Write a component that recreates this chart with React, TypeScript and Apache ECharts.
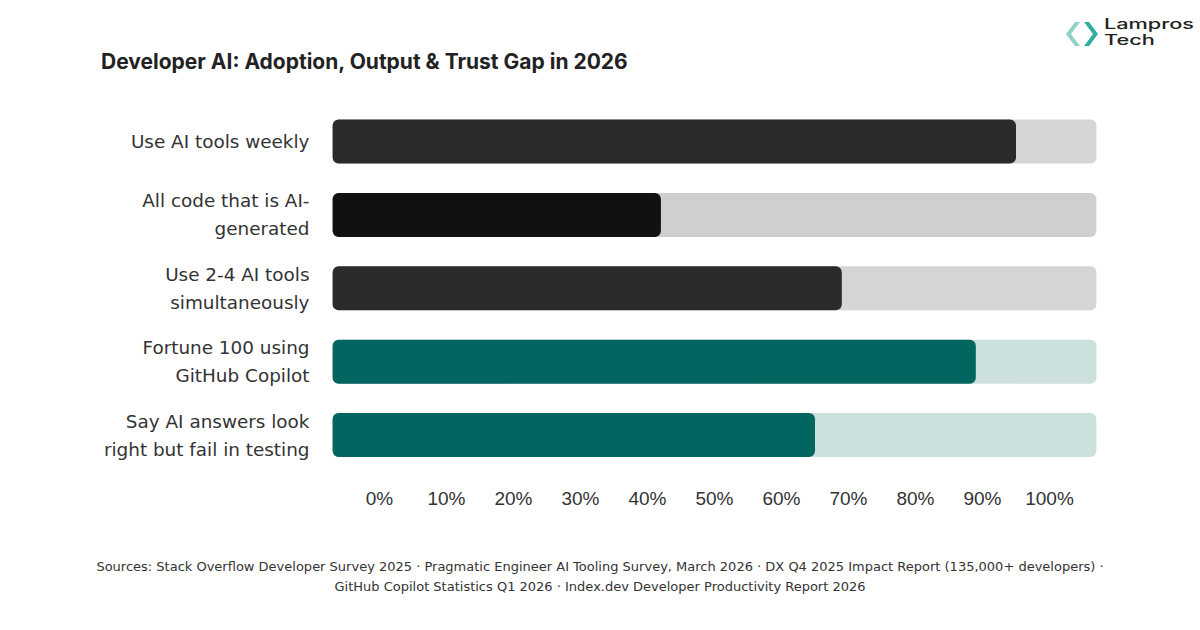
import React, { useEffect, useRef } from "react";
import * as echarts from "echarts";

const categories = [
  "Use AI tools weekly",
  "All code that is AI-\ngenerated",
  "Use 2-4 AI tools\nsimultaneously",
  "Fortune 100 using\nGitHub Copilot",
  "Say AI answers look\nright but fail in testing",
];
const values = [95, 42, 69, 89, 65];
const tickValues = [0, 10, 20, 30, 40, 50, 60, 70, 80, 90, 100];
const barColors = ["#2b2b2b", "#111111", "#2b2b2b", "#02655f", "#02655f"];
const trackColors = ["#d5d5d5", "#cfcfcf", "#d5d5d5", "#cce0de", "#cce0de"];
const TRACK_MIN = -7;
const TRACK_MAX = 107;
const sources = [
  "Sources: Stack Overflow Developer Survey 2025 · Pragmatic Engineer AI Tooling Survey, March 2026 · DX Q4 2025 Impact Report (135,000+ developers) ·",
  "GitHub Copilot Statistics Q1 2026 · Index.dev Developer Productivity Report 2026",
];

export default function App() {
  const ref = useRef<HTMLDivElement>(null);
  useEffect(() => {
    if (!ref.current) return;
    const chart = echarts.init(ref.current, null, { renderer: "svg" });

    const makeRender = (kind: "track" | "bar") => (params: any, api: any) => {
      const idx = api.value(1);
      const v = kind === "track" ? TRACK_MAX : api.value(0);
      const start = api.coord([TRACK_MIN, idx]);
      const end = api.coord([v, idx]);
      const band = api.size([0, 1])[1];
      const h = band * 0.6;
      return {
        type: "rect",
        shape: { x: start[0], y: start[1] - h / 2, width: end[0] - start[0], height: h, r: 6 },
        style: { fill: kind === "track" ? trackColors[idx] : barColors[idx] },
      };
    };

    chart.setOption({
      animation: false,
      backgroundColor: "#ffffff",
      grid: { left: 312.5, right: 83.5, top: 104.8, bottom: 630 - 471.8, containLabel: false },
      xAxis: {
        type: "value",
        min: -10,
        max: 110,
        interval: 10,
        axisLine: { show: false },
        axisTick: { show: false },
        splitLine: { show: false },
        axisLabel: {
          margin: 17,
          fontSize: 19,
          color: "#333333",
          fontFamily: "Liberation Sans",
          formatter: (val: number) => (tickValues.indexOf(Math.round(val)) >= 0 ? Math.round(val) + "%" : ""),
        },
      },
      yAxis: {
        type: "category",
        data: categories,
        inverse: true,
        axisLine: { show: false },
        axisTick: { show: false },
        splitLine: { show: false },
        axisLabel: {
          margin: 3,
          fontSize: 18.4,
          lineHeight: 28,
          color: "#333333",
          fontFamily: "DejaVu Sans",
          align: "right",
        },
      },
      series: [
        {
          type: "custom",
          renderItem: makeRender("track"),
          encode: { x: 0, y: 1 },
          data: values.map((v, i) => [v, i]),
          z: 1,
        },
        {
          type: "custom",
          renderItem: makeRender("bar"),
          encode: { x: 0, y: 1 },
          data: values.map((v, i) => [v, i]),
          z: 2,
        },
      ],
      graphic: [
        {
          type: "text",
          left: 101,
          top: 51,
          style: {
            text: "Developer AI: Adoption, Output & Trust Gap in 2026",
            fontFamily: "Inter",
            fontWeight: 700,
            fontSize: 21,
            fill: "#222222",
          },
        },
        {
          type: "text",
          x: 600,
          y: 556,
          style: {
            text: sources.join("\n"),
            fontFamily: "DejaVu Sans",
            fontSize: 13,
            lineHeight: 20,
            align: "center",
            verticalAlign: "top",
            fill: "#333333",
          },
        },
        {
          type: "polygon",
          shape: { points: [[1075, 22], [1080, 22], [1071, 34], [1080, 46], [1075, 46], [1066, 34]] },
          style: { fill: "#8fd3c6" },
        },
        {
          type: "polygon",
          shape: { points: [[1084, 22], [1089, 22], [1098, 34], [1089, 46], [1084, 46], [1093, 34]] },
          style: { fill: "#2fae9f" },
        },
        {
          type: "text",
          x: 1104,
          y: 17,
          scaleX: 1.55,
          style: { text: "Lampros", fontFamily: "Inter", fontWeight: 500, fontSize: 14, fill: "#222222" },
        },
        {
          type: "text",
          x: 1104,
          y: 33,
          scaleX: 1.55,
          style: { text: "Tech", fontFamily: "Inter", fontWeight: 500, fontSize: 14, fill: "#222222" },
        },
      ],
    });
    return () => chart.dispose();
  }, []);
  return (
    <div
      ref={ref}
      style={{ position: "fixed", left: 0, top: 0, width: 1200, height: 630 }}
    />
  );
}
